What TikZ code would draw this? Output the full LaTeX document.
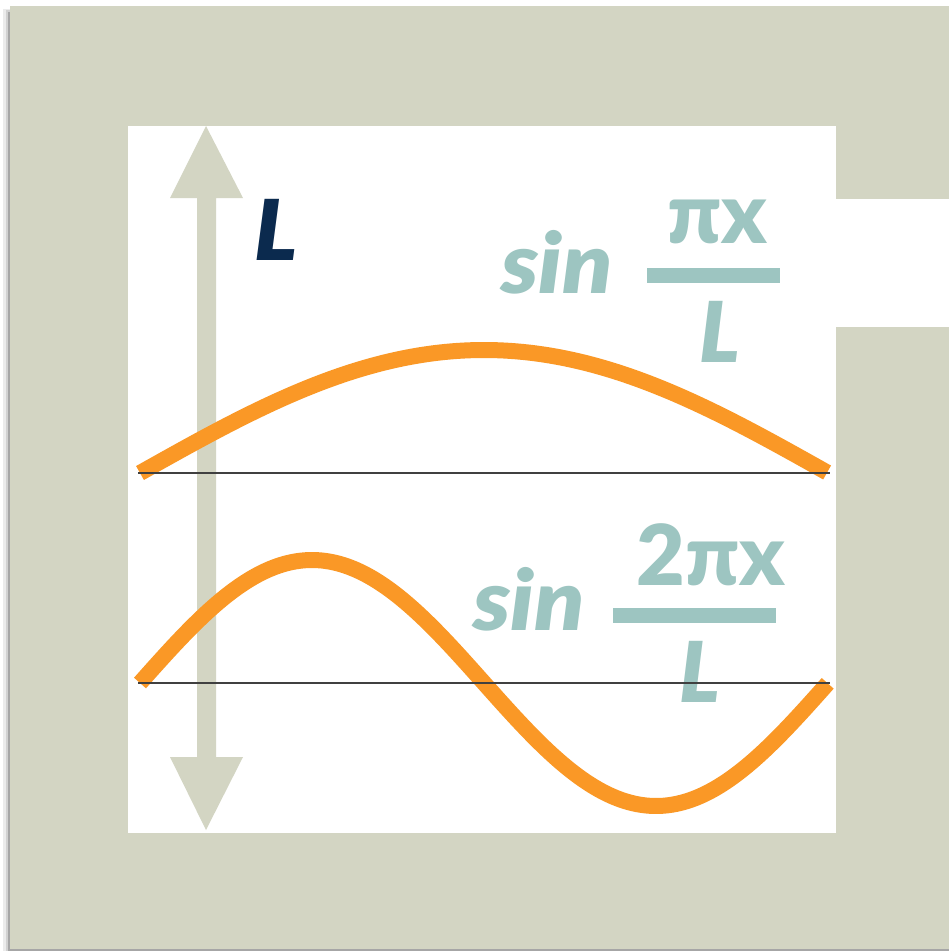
\documentclass[tikz,border=0pt]{standalone}
\usepackage{fontspec}
\setmainfont{Lato-Black.ttf}[ItalicFont=Lato-BlackItalic.ttf, BoldFont=Lato-Black.ttf, BoldItalicFont=Lato-BlackItalic.ttf]
\definecolor{frame}{HTML}{D3D5C3}
\definecolor{wave}{HTML}{FA9826}
\definecolor{teal}{HTML}{9DC5C1}
\definecolor{navy}{HTML}{0B2A4E}
\tikzset{
  bigtext/.style={inner sep=0pt, font=\fontsize{84}{84}\selectfont\bfseries},
  wavecurve/.style={draw=wave, line width=16pt, line cap=butt, line join=round},
  axisline/.style={draw=black!75, line width=1.4pt},
}
\begin{document}
\begin{tikzpicture}[x=1pt,y=-1pt]
\useasboundingbox (0,0) rectangle (949,951);
\fill[white] (0,0) rectangle (949,951);
% shadow
\fill[black!8] (3,9) rectangle (949,951);
\fill[black!18] (6,10) rectangle (949,951);
\fill[black!35] (8,12) rectangle (949,951);
% frame
\fill[frame] (10,6) rectangle (949,949);
\fill[white] (128,126) rectangle (836,833);
\fill[white] (836,199) rectangle (949,327);
% double arrow
\fill[frame] (206,126) -- (243,198) -- (216,198) -- (216,757) -- (243,757) -- (206,830)
  -- (170,757) -- (197,757) -- (197,198) -- (170,198) -- cycle;
% waves
\draw[wavecurve] plot[domain=0:1, samples=120, smooth] ({140+688*\x}, {473-123*sin(180*\x)});
\draw[wavecurve] plot[domain=0:1, samples=160, smooth] ({140+688*\x}, {683-123*sin(360*\x)});
% text
\node[bigtext, text=navy, anchor=base west] (Llabel) at (254,260) {\scalebox{1.06}[1]{\itshape L}};
\node[bigtext, text=teal, anchor=base west] (sin1) at (501,293) {\scalebox{1.09}[1]{\itshape sin}};
\fill[teal] (647,268) rectangle (780,283);
\node[bigtext, text=teal, anchor=base] (num1) at (717,243) {πx};
\node[bigtext, text=teal, anchor=base] (den1) at (720,362) {\itshape L};
\node[bigtext, text=teal, anchor=base west] (sin2) at (473,630) {\scalebox{1.09}[1]{\itshape sin}};
\fill[teal] (613,608) rectangle (776,623);
\node[bigtext, text=teal, anchor=base] (num2) at (711,585) {2πx};
\node[bigtext, text=teal, anchor=base] (den2) at (700,702) {\itshape L};
% axis lines
\draw[axisline] (138,473) -- (830,473);
\draw[axisline] (138,683) -- (830,683);
\end{tikzpicture}
\end{document}
